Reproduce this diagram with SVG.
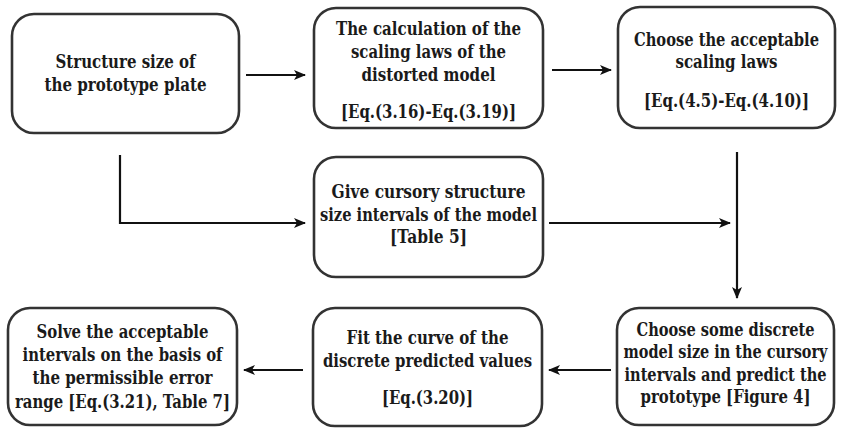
<svg xmlns="http://www.w3.org/2000/svg" width="841" height="430" viewBox="0 0 841 430">
<style>
.box{fill:#fff;stroke:#333;stroke-width:2.6}
.t{font-family:'DejaVu Serif Condensed','DejaVu Serif',serif;font-stretch:condensed;font-weight:bold;font-size:18px;fill:#1a1a1a;text-anchor:middle}
.c{fill:none;stroke:#111;stroke-width:2.2}
</style>
<defs>
<marker id="ah" viewBox="0 0 12 10" refX="11" refY="5" markerWidth="12" markerHeight="10" markerUnits="userSpaceOnUse" orient="auto">
<path d="M0,0 L12,5 L0,10 L3,5 z" fill="#111"/>
</marker>
</defs>
<rect width="841" height="430" fill="#fff"/>
<g id="connectors">
<line class="c" x1="246" y1="75" x2="305" y2="75" marker-end="url(#ah)"/>
<line class="c" x1="552" y1="70" x2="611" y2="70" marker-end="url(#ah)"/>
<polyline class="c" points="120,155 120,223 305,223" marker-end="url(#ah)"/>
<line class="c" x1="549" y1="223" x2="730" y2="223" marker-end="url(#ah)"/>
<line class="c" x1="737" y1="152" x2="737" y2="298" marker-end="url(#ah)"/>
<line class="c" x1="611" y1="370" x2="549" y2="370" marker-end="url(#ah)"/>
<line class="c" x1="303" y1="370" x2="244" y2="370" marker-end="url(#ah)"/>
</g>
<g id="n1">
<rect class="box" x="12" y="14" width="227" height="119" rx="22"/>
<text class="t" x="125.5" y="68" textLength="140" lengthAdjust="spacingAndGlyphs">Structure size of</text>
<text class="t" x="125.5" y="91" textLength="162" lengthAdjust="spacingAndGlyphs">the prototype plate</text>
</g>
<g id="n2">
<rect class="box" x="314" y="8" width="229" height="120" rx="22"/>
<text class="t" x="428.5" y="35" textLength="185" lengthAdjust="spacingAndGlyphs">The calculation of the</text>
<text class="t" x="428.5" y="58" textLength="155" lengthAdjust="spacingAndGlyphs">scaling laws of the</text>
<text class="t" x="428.5" y="81" textLength="134" lengthAdjust="spacingAndGlyphs">distorted model</text>
<text class="t" x="428.5" y="118" textLength="175" lengthAdjust="spacingAndGlyphs">[Eq.(3.16)-Eq.(3.19)]</text>
</g>
<g id="n3">
<rect class="box" x="618" y="7" width="217" height="121" rx="22"/>
<text class="t" x="726.5" y="46" textLength="185" lengthAdjust="spacingAndGlyphs">Choose the acceptable</text>
<text class="t" x="726.5" y="68" textLength="102" lengthAdjust="spacingAndGlyphs">scaling laws</text>
<text class="t" x="726.5" y="107" textLength="165" lengthAdjust="spacingAndGlyphs">[Eq.(4.5)-Eq.(4.10)]</text>
</g>
<g id="n4">
<rect class="box" x="314" y="157" width="229" height="120" rx="22"/>
<text class="t" x="428.5" y="198" textLength="194" lengthAdjust="spacingAndGlyphs">Give cursory structure</text>
<text class="t" x="428.5" y="221" textLength="217" lengthAdjust="spacingAndGlyphs">size intervals of the model</text>
<text class="t" x="428.5" y="243" textLength="77" lengthAdjust="spacingAndGlyphs">[Table 5]</text>
</g>
<g id="n5">
<rect class="box" x="617" y="308" width="217" height="117" rx="22"/>
<text class="t" x="725.5" y="336" textLength="178" lengthAdjust="spacingAndGlyphs">Choose some discrete</text>
<text class="t" x="725.5" y="358" textLength="204" lengthAdjust="spacingAndGlyphs">model size in the cursory</text>
<text class="t" x="725.5" y="381" textLength="202" lengthAdjust="spacingAndGlyphs">intervals and predict the</text>
<text class="t" x="725.5" y="403" textLength="170" lengthAdjust="spacingAndGlyphs">prototype [Figure 4]</text>
</g>
<g id="n6">
<rect class="box" x="313" y="308" width="229" height="118" rx="22"/>
<text class="t" x="427.5" y="344" textLength="162" lengthAdjust="spacingAndGlyphs">Fit the curve of the</text>
<text class="t" x="427.5" y="367" textLength="209" lengthAdjust="spacingAndGlyphs">discrete predicted values</text>
<text class="t" x="427.5" y="404" textLength="91" lengthAdjust="spacingAndGlyphs">[Eq.(3.20)]</text>
</g>
<g id="n7">
<rect class="box" x="8" y="308" width="229" height="117" rx="22"/>
<text class="t" x="122.5" y="338" textLength="172" lengthAdjust="spacingAndGlyphs">Solve the acceptable</text>
<text class="t" x="122.5" y="361" textLength="200" lengthAdjust="spacingAndGlyphs">intervals on the basis of</text>
<text class="t" x="122.5" y="384" textLength="180" lengthAdjust="spacingAndGlyphs">the permissible error</text>
<text class="t" x="122.5" y="408" textLength="215" lengthAdjust="spacingAndGlyphs">range [Eq.(3.21), Table 7]</text>
</g>
</svg>
